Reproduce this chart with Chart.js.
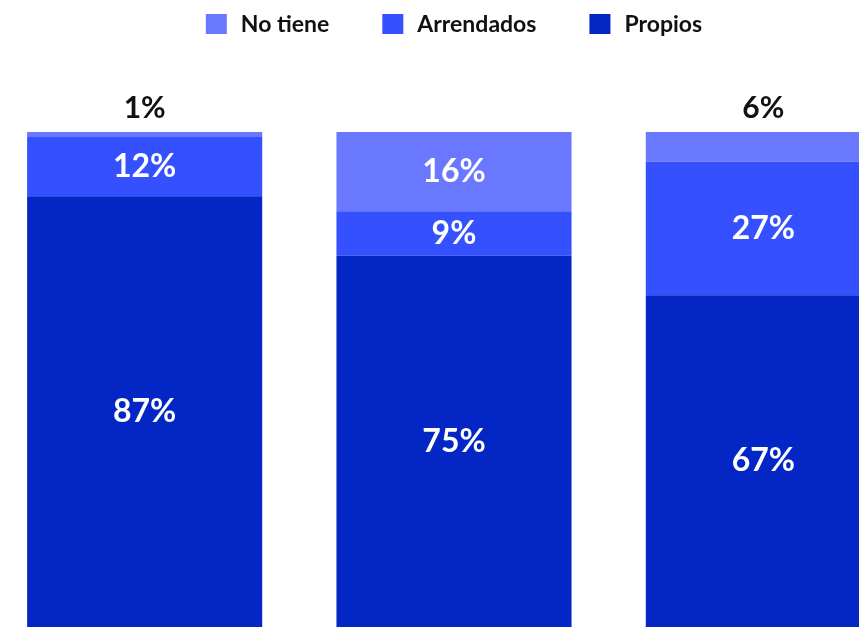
<!DOCTYPE html>
<html lang="es">
<head>
<meta charset="utf-8">
<script src="https://cdn.jsdelivr.net/npm/chart.js@4/dist/chart.umd.min.js"></script>
<style>
  html, body { margin: 0; padding: 0; background: #fff; overflow: hidden; }
  body { width: 859px; height: 627px; position: relative; }
  #wrap { position: absolute; left: -10px; top: 0; width: 928px; height: 627px; }
</style>
</head>
<body>
<div id="wrap"><canvas id="grafico" width="928" height="627"></canvas></div>
<script>
// --- datos ---
const categorias = ['Grupo 1', 'Grupo 2', 'Grupo 3'];
const propios    = [87, 75, 67];
const arrendados = [12, 9, 27];
const noTiene    = [1, 16, 6];

const colores = { propios: '#0326C5', arrendados: '#3551FF', noTiene: '#6A78FF' };
const FUENTE = 'Lato, "Noto Sans", sans-serif';

// etiquetas de porcentaje (dentro o encima de la barra)
const etiquetasPlugin = {
    id: 'etiquetas',
    afterDatasetsDraw(chart) {
        const ctx = chart.ctx;
        ctx.save();
        ctx.textAlign = 'center';
        ctx.textBaseline = 'middle';
        chart.data.datasets.forEach((ds, di) => {
            const meta = chart.getDatasetMeta(di);
            meta.data.forEach((bar, i) => {
                const v = ds.data[i];
                const alto = Math.abs(bar.base - bar.y);
                if (alto < 35) {
                    // segmento muy pequeño: texto negro encima de la barra
                    ctx.font = `bold 30px ${FUENTE}`;
                    ctx.fillStyle = '#111';
                    ctx.fillText(v + '%', bar.x, bar.y - 24);
                } else {
                    ctx.font = `bold 32px ${FUENTE}`;
                    ctx.fillStyle = '#fff';
                    ctx.fillText(v + '%', bar.x, (bar.y + bar.base) / 2);
                }
            });
        });
        ctx.restore();
    }
};

// leyenda propia (orden invertido: No tiene, Arrendados, Propios)
const leyendaPlugin = {
    id: 'leyenda',
    afterDraw(chart) {
        const ctx = chart.ctx;
        const items = chart.data.datasets.slice().reverse();
        ctx.save();
        ctx.font = `bold 23px ${FUENTE}`;
        ctx.textBaseline = 'middle';
        ctx.textAlign = 'left';
        const caja = 21, hueco = 14, sep = 53;
        const anchos = items.map(d => caja + hueco + ctx.measureText(d.label).width);
        const total = anchos.reduce((a, b) => a + b, 0) + sep * (items.length - 1);
        let x = chart.width / 2 - total / 2;
        const yc = 24;
        items.forEach((d, i) => {
            ctx.fillStyle = d.backgroundColor;
            ctx.fillRect(x, yc - 10, caja, 20);
            ctx.fillStyle = '#111';
            ctx.fillText(d.label, x + caja + hueco, yc + 1);
            x += anchos[i] + sep;
        });
        ctx.restore();
    }
};

new Chart(document.getElementById('grafico'), {
    type: 'bar',
    data: {
        labels: categorias,
        datasets: [
            { label: 'Propios', data: propios, backgroundColor: colores.propios },
            { label: 'Arrendados', data: arrendados, backgroundColor: colores.arrendados },
            { label: 'No tiene', data: noTiene, backgroundColor: colores.noTiene }
        ]
    },
    options: {
        responsive: false,
        animation: false,
        devicePixelRatio: 1,
        categoryPercentage: 1,
        barPercentage: 0.76,
        layout: { padding: { top: 132, bottom: 0, left: 0, right: 0 } },
        plugins: { legend: { display: false }, tooltip: { enabled: false } },
        scales: {
            x: { stacked: true, display: false },
            y: { stacked: true, display: false, min: 0, max: 100 }
        }
    },
    plugins: [etiquetasPlugin, leyendaPlugin]
});
</script>
</body>
</html>
